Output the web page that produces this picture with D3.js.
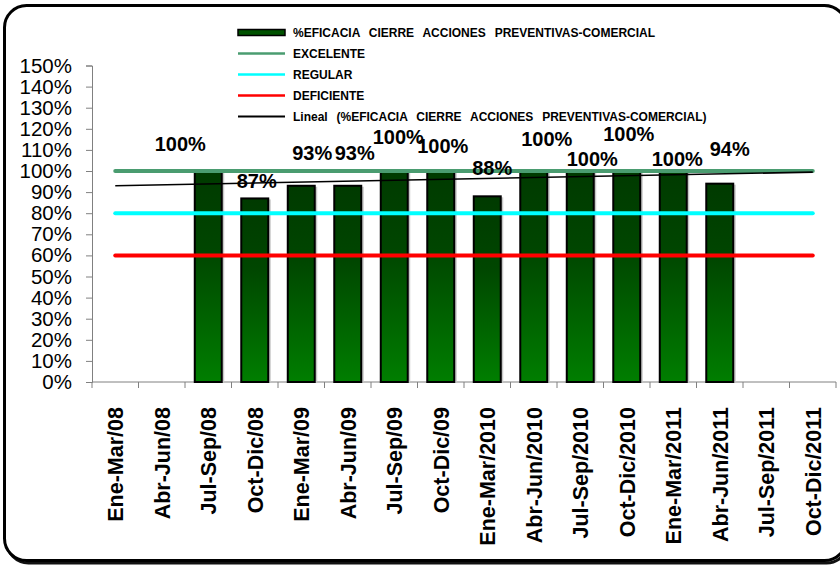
<!DOCTYPE html>
<html>
<head>
<meta charset="utf-8">
<script src="https://cdn.jsdelivr.net/npm/d3@7"></script>
<style>
  html, body { margin: 0; padding: 0; background: #fff; }
  svg { display: block; font-family: "Liberation Sans", Arial, sans-serif; }
</style>
</head>
<body>
<svg id="chart" width="840" height="567"></svg>
<script>
// Quarterly periods shown on the category axis
const periods = [
  "Ene-Mar/08", "Abr-Jun/08", "Jul-Sep/08", "Oct-Dic/08",
  "Ene-Mar/09", "Abr-Jun/09", "Jul-Sep/09", "Oct-Dic/09",
  "Ene-Mar/2010", "Abr-Jun/2010", "Jul-Sep/2010", "Oct-Dic/2010",
  "Ene-Mar/2011", "Abr-Jun/2011", "Jul-Sep/2011", "Oct-Dic/2011"
];

// % eficacia cierre acciones preventivas (null = sin dato)
const eficacia = [null, null, 1.00, 0.87, 0.93, 0.93, 1.00, 1.00,
                  0.88, 1.00, 1.00, 1.00, 1.00, 0.94, null, null];

// Reference levels
const excelente = 1.00;
const regular = 0.80;
const deficiente = 0.60;

// Value axis ticks
const yTicks = d3.range(0, 1.51, 0.1);

// Hand nudges (px) that keep the value labels clear of each other
const labelNudge = [null, null, [-28, -27], [2, -18], [11, -33], [7, -33], [4, -34], [2, -25],
                    [5, -29], [13, -32], [12, -12], [2, -37], [4, -12], [10, -35], null, null];

const svg = d3.select("#chart");

// Rounded frame with a slight drop shadow
svg.append("rect")
  .attr("x", 6.5).attr("y", 8).attr("width", 842).attr("height", 555)
  .attr("rx", 22).attr("fill", "none").attr("stroke", "#111").attr("stroke-width", 3);
svg.append("rect")
  .attr("x", 4.5).attr("y", 5.5).attr("width", 842).attr("height", 555)
  .attr("rx", 22).attr("fill", "#fff").attr("stroke", "#000").attr("stroke-width", 3);

const plotLeft = 92, plotRight = 836, plotTop = 65.5, plotBottom = 382;

const x = d3.scaleBand().domain(periods).range([plotLeft, plotRight]).paddingInner(0).paddingOuter(0);
const y = d3.scaleLinear().domain([0, 1.5]).range([plotBottom, plotTop]);
const cx = p => x(p) + x.bandwidth() / 2;

// Bar gradient: dark green at the top, brighter toward the base
const defs = svg.append("defs");
const grad = defs.append("linearGradient").attr("id", "barGrad")
  .attr("x1", 0).attr("y1", 0).attr("x2", 0).attr("y2", 1);
grad.append("stop").attr("offset", "0%").attr("stop-color", "#003a00");
grad.append("stop").attr("offset", "38%").attr("stop-color", "#004600");
grad.append("stop").attr("offset", "100%").attr("stop-color", "#007e00");

// Y axis
const yAxis = svg.append("g").attr("transform", `translate(${plotLeft},0)`)
  .call(d3.axisLeft(y).tickValues(yTicks).tickSize(6).tickPadding(14)
    .tickFormat(d => Math.round(d * 100) + "%"));
yAxis.select(".domain").attr("stroke", "#808080");
yAxis.selectAll(".tick line").attr("stroke", "#808080");
yAxis.selectAll(".tick text").attr("font-size", 20.5).attr("fill", "#000")
  .attr("font-family", "Liberation Sans, Arial, sans-serif");

// X axis: ticks on band boundaries
const xAxisG = svg.append("g");
xAxisG.append("line").attr("x1", plotLeft).attr("x2", plotRight).attr("y1", plotBottom).attr("y2", plotBottom)
  .attr("stroke", "#808080");
xAxisG.selectAll("line.tk").data(periods.concat(["_end"])).join("line").attr("class", "tk")
  .attr("x1", (d, i) => plotLeft + i * x.bandwidth()).attr("x2", (d, i) => plotLeft + i * x.bandwidth())
  .attr("y1", plotBottom).attr("y2", plotBottom + 6).attr("stroke", "#808080");

xAxisG.selectAll("text").data(periods).join("text")
  .attr("transform", d => `translate(${cx(d)},${plotBottom + 25}) rotate(-90)`)
  .attr("text-anchor", "end").attr("dy", "0.36em")
  .attr("font-size", 21.5).attr("font-weight", "bold").attr("fill", "#000")
  .text(d => d);

// Bars
const barData = periods.map((p, i) => ({ p, v: eficacia[i], i })).filter(d => d.v != null);
const bw = x.bandwidth() * 0.58;
svg.append("g").selectAll("rect").data(barData).join("rect")
  .attr("x", d => cx(d.p) - bw / 2 + 2.5).attr("y", d => y(d.v) + 1)
  .attr("width", bw).attr("height", d => plotBottom - y(d.v) - 1)
  .attr("fill", "#c8c8c8");
svg.append("g").selectAll("rect").data(barData).join("rect")
  .attr("x", d => cx(d.p) - bw / 2).attr("y", d => y(d.v))
  .attr("width", bw).attr("height", d => plotBottom - y(d.v))
  .attr("fill", "url(#barGrad)").attr("stroke", "#000").attr("stroke-width", 2);

// Reference lines
const x0 = cx(periods[0]), x1 = cx(periods[periods.length - 1]);
const refs = [
  { v: deficiente, c: "#ff0000" },
  { v: regular, c: "#00ffff" },
  { v: excelente, c: "#4a9c70" }
];
svg.append("g").selectAll("line").data(refs).join("line")
  .attr("x1", x0).attr("x2", x1).attr("y1", d => y(d.v)).attr("y2", d => y(d.v))
  .attr("stroke", d => d.c).attr("stroke-width", 4).attr("stroke-linecap", "round");

// Linear trend (least squares over the available quarters)
const pts = eficacia.map((v, i) => [i + 1, v]).filter(d => d[1] != null);
const mx = d3.mean(pts, d => d[0]), my = d3.mean(pts, d => d[1]);
const slope = d3.sum(pts, d => (d[0] - mx) * (d[1] - my)) / d3.sum(pts, d => (d[0] - mx) ** 2);
const trend = n => my + slope * (n - mx);
svg.append("line")
  .attr("x1", x0).attr("x2", x1)
  .attr("y1", y(trend(1))).attr("y2", y(trend(periods.length)))
  .attr("stroke", "#000").attr("stroke-width", 1.6);

// Value labels
svg.append("g").selectAll("text").data(barData).join("text")
  .attr("x", d => cx(d.p) + labelNudge[d.i][0])
  .attr("y", d => y(d.v) + labelNudge[d.i][1])
  .attr("dy", "0.36em").attr("text-anchor", "middle")
  .attr("font-size", 20).attr("font-weight", "bold").attr("fill", "#000")
  .text(d => Math.round(d.v * 100) + "%");

// Legend (white backing sits over anything beneath it)
const legend = svg.append("g");
legend.append("rect").attr("x", 232).attr("y", 22).attr("width", 490).attr("height", 102).attr("fill", "#fff");
const legendItems = [
  { t: "%EFICACIA CIERRE ACCIONES PREVENTIVAS-COMERCIAL", type: "bar" },
  { t: "EXCELENTE", type: "line", c: "#4a9c70", w: 2.5 },
  { t: "REGULAR", type: "line", c: "#00ffff", w: 2.5 },
  { t: "DEFICIENTE", type: "line", c: "#ff0000", w: 2.5 },
  { t: "Lineal (%EFICACIA CIERRE ACCIONES PREVENTIVAS-COMERCIAL)", type: "line", c: "#000", w: 2 }
];
legendItems.forEach((d, i) => {
  const ly = 32.5 + i * 21;
  if (d.type === "bar") {
    legend.append("rect").attr("x", 238).attr("y", ly - 3).attr("width", 47).attr("height", 6)
      .attr("fill", "#005200").attr("stroke", "#000").attr("stroke-width", 1.5);
  } else {
    legend.append("line").attr("x1", 238).attr("x2", 285).attr("y1", ly).attr("y2", ly)
      .attr("stroke", d.c).attr("stroke-width", d.w);
  }
  legend.append("text").attr("x", 293).attr("y", ly).attr("dy", "0.36em")
    .attr("font-size", 12).attr("font-weight", "bold").attr("word-spacing", 5.5).attr("fill", "#000")
    .text(d.t);
});
</script>
</body>
</html>
